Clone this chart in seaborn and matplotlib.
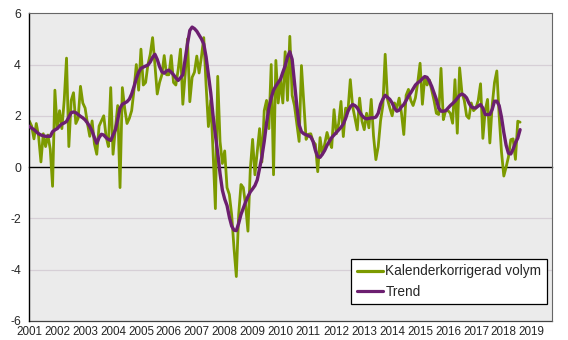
import numpy as np
import pandas as pd
import matplotlib
matplotlib.use("Agg")
import matplotlib.pyplot as plt
import seaborn as sns

# ---- data (monthly, Jan 2001 - Aug 2018) ----
months = pd.date_range("2001-01-01", "2018-08-01", freq="MS")

kalender = [
    # 2001
    1.8, 1.6, 1.1, 1.7, 1.2, 0.2, 1.3, 0.8, 1.25, 0.7, -0.75, 3.0,
    # 2002
    1.5, 2.2, 1.5, 2.6, 4.25, 0.8, 2.6, 2.9, 1.7, 1.9, 3.15, 2.5,
    # 2003
    2.3, 1.7, 1.2, 1.8, 0.9, 0.5, 1.6, 1.8, 2.0, 1.2, 0.8, 3.1,
    # 2004
    0.5, 1.5, 2.4, -0.8, 3.1, 2.3, 1.7, 1.9, 2.2, 3.0, 4.0, 3.0,
    # 2005
    4.6, 3.2, 3.3, 4.0, 4.4, 5.05, 4.0, 2.85, 3.3, 3.6, 4.35, 3.6,
    # 2006
    3.6, 4.35, 3.3, 3.2, 3.8, 4.6, 2.45, 3.6, 5.0, 2.55, 3.5, 3.7,
    # 2007
    4.33, 3.67, 4.3, 5.05, 3.2, 1.58, 2.6, 0.6, -1.62, 3.54, 1.0, 0.14,
    # 2008
    0.63, -0.8, -1.07, -1.86, -3.16, -4.27, -1.86, -0.68, -0.8, -1.5, -2.5, -0.1,
    # 2009
    1.08, -0.3, 0.6, 1.5, 0.2, 2.2, 2.6, 1.5, 4.0, -0.3, 4.16, 2.5,
    # 2010
    3.4, 2.5, 4.5, 2.6, 5.1, 2.8, 2.4, 1.7, 1.0, 3.96, 2.5, 1.08,
    # 2011
    1.28, 1.3, 1.0, 0.89, -0.18, 1.15, 0.5, 0.9, 1.35, 1.0, 0.76, 2.24,
    # 2012
    1.3, 1.7, 2.56, 1.19, 2.3, 2.2, 3.41, 2.37, 1.9, 1.45, 2.69, 1.8,
    # 2013
    1.46, 2.1, 1.53, 2.64, 1.2, 0.29, 0.8, 1.8, 2.4, 4.4, 2.64, 2.3,
    # 2014
    2.0, 2.5, 2.3, 2.69, 2.1, 1.27, 2.8, 3.03, 2.6, 2.4, 2.7, 3.3,
    # 2015
    4.05, 2.45, 3.5, 3.2, 3.4, 3.0, 2.6, 2.1, 2.05, 3.85, 1.85, 2.2,
    # 2016
    2.2, 2.1, 1.71, 3.41, 1.32, 3.87, 2.9, 2.6, 2.0, 1.9, 2.5, 2.2,
    # 2017
    2.3, 2.6, 3.25, 1.12, 2.2, 2.64, 0.94, 2.4, 3.3, 3.75, 2.0, 0.6,
    # 2018
    -0.35, 0.0, 0.4, 1.07, 1.1, 0.3, 1.79, 1.75,
]

trend = [
    # 2001
    1.59, 1.52, 1.46, 1.38, 1.30, 1.25, 1.22, 1.20, 1.20, 1.20, 1.38, 1.45,
    # 2002
    1.50, 1.60, 1.68, 1.72, 1.78, 1.95, 2.12, 2.15, 2.12, 2.05, 1.98, 1.92,
    # 2003
    1.84, 1.72, 1.58, 1.40, 1.15, 0.93, 1.15, 1.28, 1.25, 1.15, 1.08, 1.04,
    # 2004
    1.25, 1.45, 1.85, 2.30, 2.45, 2.50, 2.55, 2.65, 2.85, 3.14, 3.45, 3.70,
    # 2005
    3.85, 3.90, 3.94, 3.98, 4.10, 4.28, 4.40, 4.20, 3.92, 3.72, 3.66, 3.75,
    # 2006
    3.78, 3.70, 3.60, 3.48, 3.38, 3.48, 3.60, 4.20, 4.80, 5.33, 5.46, 5.40,
    # 2007
    5.30, 5.15, 5.00, 4.80, 4.30, 3.60, 2.90, 2.00, 1.25, 0.55, -0.25, -0.90,
    # 2008
    -1.25, -1.50, -1.95, -2.30, -2.46, -2.48, -2.20, -1.85, -1.60, -1.36, -1.15, -0.97,
    # 2009
    -0.85, -0.72, -0.50, -0.05, 0.40, 1.00, 1.72, 2.30, 2.70, 3.00, 3.16, 3.30,
    # 2010
    3.43, 3.70, 3.95, 4.30, 4.50, 4.20, 3.30, 2.40, 1.65, 1.38, 1.30, 1.26,
    # 2011
    1.22, 1.18, 1.00, 0.65, 0.40, 0.38, 0.50, 0.65, 0.85, 1.00, 1.15, 1.25,
    # 2012
    1.35, 1.45, 1.55, 1.68, 1.90, 2.18, 2.35, 2.44, 2.40, 2.31, 2.15, 2.01,
    # 2013
    1.92, 1.88, 1.90, 1.92, 1.92, 1.95, 2.10, 2.45, 2.65, 2.80, 2.72, 2.64,
    # 2014
    2.50, 2.30, 2.18, 2.22, 2.35, 2.44, 2.60, 2.77, 2.90, 3.05, 3.20, 3.29,
    # 2015
    3.35, 3.45, 3.53, 3.50, 3.35, 3.15, 2.90, 2.64, 2.30, 2.18, 2.18, 2.20,
    # 2016
    2.30, 2.40, 2.48, 2.57, 2.68, 2.80, 2.85, 2.80, 2.70, 2.50, 2.35, 2.31,
    # 2017
    2.31, 2.38, 2.44, 2.30, 2.05, 2.05, 2.05, 2.25, 2.57, 2.57, 2.40, 1.95,
    # 2018
    1.35, 0.85, 0.54, 0.51, 0.70, 0.95, 1.13, 1.46,
]

series_names = ["Kalenderkorrigerad volym", "Trend"]
year_ticks = list(range(2001, 2020))
y_ticks = [-6, -4, -2, 0, 2, 4, 6]

# ---- build long table ----
dec_year = months.year + (months.month - 1) / 12.0
df = pd.DataFrame({
    "x": np.concatenate([dec_year, dec_year]),
    "value": kalender + trend,
    "series": [series_names[0]] * len(kalender) + [series_names[1]] * len(trend),
})

# ---- style ----
sns.set_style("white")
plt.rcParams["font.family"] = ["Liberation Sans", "DejaVu Sans"]
plt.rcParams["font.size"] = 8.3

fig = plt.figure(figsize=(5.68, 3.40), dpi=100)
ax = fig.add_axes([0.0516, 0.0562, 0.9204, 0.9048])
ax.set_facecolor("#ebebeb")

palette = {series_names[0]: "#7c9a00", series_names[1]: "#6c1f70"}
widths = {series_names[0]: 2.0, series_names[1]: 2.4}

for name in series_names:
    sns.lineplot(data=df[df["series"] == name], x="x", y="value", ax=ax,
                 color=palette[name], linewidth=widths[name], label=name,
                 zorder=3 if name == "Trend" else 2)

ax.set_xlim(2001, 2019.73)
ax.set_ylim(-6, 6)
ax.set_xlabel("")
ax.set_ylabel("")

# horizontal grid
ax.set_yticks(y_ticks)
ax.set_yticklabels([str(v) for v in y_ticks])
for v in y_ticks:
    if v not in (0, -6, 6):
        ax.axhline(v, color="#d6cfd6", linewidth=0.9, zorder=1)

# bottom spine becomes the zero line with year tick marks
ax.spines["bottom"].set_position(("data", 0))
ax.spines["bottom"].set_color("black")
ax.spines["bottom"].set_linewidth(1.0)
ax.spines["bottom"].set_zorder(1.5)
ax.set_xticks(year_ticks)
ax.tick_params(axis="x", direction="out", length=4, width=0.9, color="black",
               labelbottom=False)
ax.tick_params(axis="y", direction="out", length=4, width=0.9, color="black",
               pad=2, labelsize=8.8)

ax.spines["left"].set_color("black")
ax.spines["left"].set_linewidth(1.0)
for s in ("top", "right"):
    ax.spines[s].set_visible(True)
    ax.spines[s].set_color("#666666")
    ax.spines[s].set_linewidth(0.8)

# year labels along the bottom of the frame
sec = ax.secondary_xaxis(0)
sec.set_xticks(year_ticks)
sec.set_xticklabels([str(y) for y in year_ticks])
sec.tick_params(length=0, pad=4, labelsize=8.4)
sec.spines["bottom"].set_color("#444444")
sec.spines["bottom"].set_linewidth(0.9)

leg = ax.legend(loc="lower right", bbox_to_anchor=(0.990, 0.055),
                borderaxespad=0, frameon=True, fancybox=False,
                edgecolor="black", facecolor="white", framealpha=1,
                handlelength=1.9, handletextpad=0.2, labelspacing=0.45,
                borderpad=0.4, fontsize=9.8)
leg.get_frame().set_linewidth(0.9)
for line in leg.get_lines():
    line.set_linewidth(2.3)

fig.savefig("out.png", dpi=100)
